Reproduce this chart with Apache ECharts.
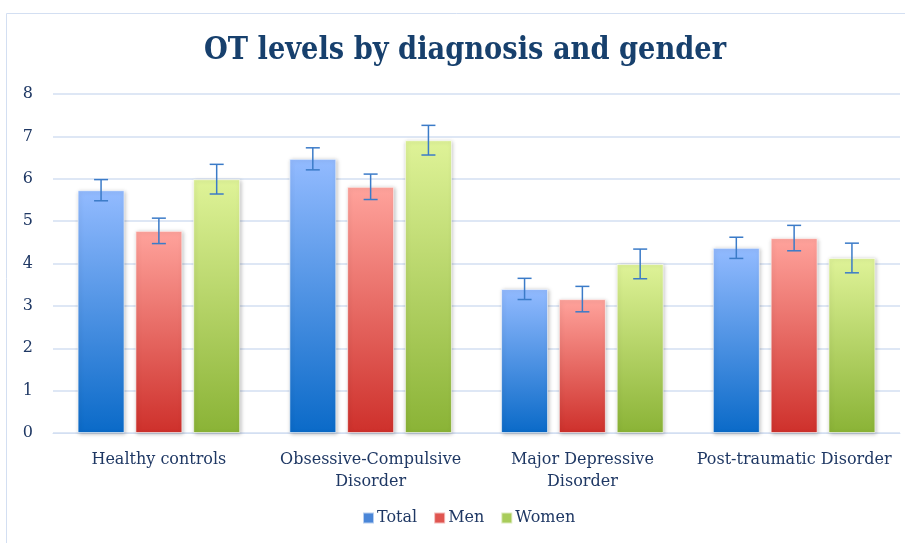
<!DOCTYPE html>
<html><head><meta charset="utf-8">
<script src="https://cdn.jsdelivr.net/npm/echarts@6/dist/echarts.min.js"></script>
<style>html,body{margin:0;padding:0;background:#fff}#c{width:905px;height:543px}</style>
</head><body><div id="c"></div>
<script>
var categories = ['Healthy controls', 'Obsessive-Compulsive\nDisorder', 'Major Depressive\nDisorder', 'Post-traumatic Disorder'];
var totalValues = [5.73, 6.47, 3.40, 4.37];
var menValues = [4.77, 5.81, 3.16, 4.60];
var womenValues = [5.99, 6.91, 3.99, 4.13];
var totalErr = [0.25, 0.26, 0.25, 0.25];
var menErr = [0.30, 0.30, 0.30, 0.30];
var womenErr = [0.35, 0.35, 0.35, 0.35];
var yTicks = [0, 1, 2, 3, 4, 5, 6, 7, 8];

var chart = echarts.init(document.getElementById('c'));
var FONT = '"DejaVu Serif", serif';
var TXT = '#1F3864';

function grad(top, bottom) {
  return new echarts.graphic.LinearGradient(0, 0, 0, 1, [
    {offset: 0, color: top}, {offset: 1, color: bottom}
  ]);
}
var seriesDefs = [
  {name: 'Total', data: totalValues, err: totalErr, color: grad('#93BBFF', '#0A6AC8'), legendColor: '#4A86D8'},
  {name: 'Men', data: menValues, err: menErr, color: grad('#FFA39C', '#CE302B'), legendColor: '#E05550'},
  {name: 'Women', data: womenValues, err: womenErr, color: grad('#DFF398', '#8AB336'), legendColor: '#A8CC5A'}
];
var barGapPct = 23;
var series = [];
seriesDefs.forEach(function (s, si) {
  series.push({
    name: s.name, type: 'bar', data: s.data, barWidth: 47, barGap: barGapPct + '%',
    itemStyle: {color: s.color, borderColor: 'rgba(255,255,255,0.6)', borderWidth: 1,
      shadowColor: 'rgba(0,0,0,0.25)', shadowBlur: 4, shadowOffsetX: 1, shadowOffsetY: 1}
  });
});
seriesDefs.forEach(function (s, si) {
  series.push({
    name: s.name + ' err', type: 'custom', z: 10,
    data: s.data.map(function (v, i) { return [i, v - s.err[i], v + s.err[i]]; }),
    renderItem: function (params, api) {
      var idx = api.value(0);
      var lo = api.coord([idx, api.value(1)]);
      var hi = api.coord([idx, api.value(2)]);
      var bw = 47, gap = bw * barGapPct / 100;
      var x = lo[0] + (si - 1) * (bw + gap);
      var st = {stroke: '#3B7BC8', lineWidth: 1.5};
      var hw = 7;
      return {type: 'group', children: [
        {type: 'line', shape: {x1: x, y1: lo[1], x2: x, y2: hi[1]}, style: st},
        {type: 'line', shape: {x1: x - hw, y1: lo[1], x2: x + hw, y2: lo[1]}, style: st},
        {type: 'line', shape: {x1: x - hw, y1: hi[1], x2: x + hw, y2: hi[1]}, style: st}
      ]};
    },
    encode: {x: 0, y: [1, 2]}
  });
});

chart.setOption({
  animation: false,
  graphic: [
    {type: 'rect', shape: {x: 6.5, y: 13.5, width: 920, height: 560}, style: {fill: 'none', stroke: '#D3DFF2', lineWidth: 1}},
    {type: 'text', x: 465, y: 35, scaleX: 0.88, originX: 0, originY: 0,
      style: {text: 'OT levels by diagnosis and gender', align: 'center', verticalAlign: 'top',
        font: 'bold 31px "DejaVu Serif", serif', fill: '#17406D'}}
  ],
  legend: {data: seriesDefs.map(function (s, i) { return {name: s.name, itemStyle: {color: s.legendColor}}; }),
    bottom: 12, left: 357, icon: 'rect', itemWidth: 11, itemHeight: 11, itemGap: 16,
    textStyle: {fontFamily: FONT, fontSize: 16, color: TXT, padding: [0, 0, 0, -2]}},
  grid: {left: 53, right: 5, top: 94, bottom: 110, containLabel: false},
  xAxis: {type: 'category', data: categories,
    axisLine: {lineStyle: {color: '#D3DFF2'}}, axisTick: {show: false},
    axisLabel: {fontFamily: FONT, fontSize: 16, color: TXT, margin: 16, lineHeight: 22, interval: 0}},
  yAxis: {type: 'value', min: 0, max: 8, interval: 1,
    axisLine: {show: false}, axisTick: {show: false},
    splitLine: {lineStyle: {color: '#D3DFF2', width: 1.5}},
    axisLabel: {fontFamily: FONT, fontSize: 16, color: TXT, margin: 20,
      formatter: function (v) { return yTicks.indexOf(v) >= 0 ? String(v) : ''; }}},
  series: series
});
</script></body></html>
